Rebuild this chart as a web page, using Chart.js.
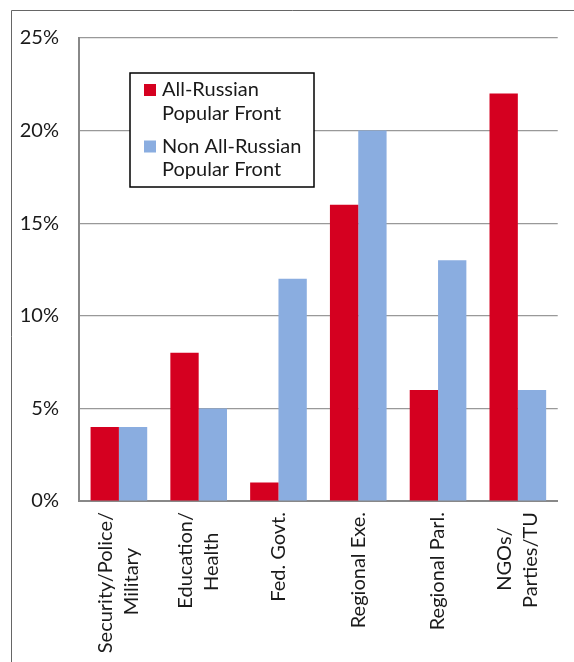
<!DOCTYPE html>
<html>
<head>
<meta charset="utf-8">
<script src="https://cdn.jsdelivr.net/npm/chart.js@4"></script>
<style>
html,body{margin:0;padding:0;background:#fff;}
#wrap{width:574px;height:662px;position:relative;}
</style>
</head>
<body>
<div id="wrap"><canvas id="chart"></canvas></div>
<script>
const categories=[["Security/Police/","Military"],["Education/","Health"],"Fed. Govt.","Regional Exe.","Regional Parl.",["NGOs/","Parties/TU"]];
const seriesNames=[["All-Russian","Popular Front"],["Non All-Russian","Popular Front"]];
const arpfValues=[4,8,1,16,6,22];
const nonArpfValues=[4,5,12,20,13,6];
const yMin=0, yMax=25, yStep=5;

const FONT="Lato";
const FSIZE=20;
const colors=["#d50020","#8aade0"];

Chart.defaults.font.family=FONT;
Chart.defaults.font.size=FSIZE;
Chart.defaults.color="#1a1a1a";

// center the lines of a rotated label against each other (lib right-aligns them)
const mctx=document.createElement("canvas").getContext("2d");
mctx.font=FSIZE+"px "+FONT;
function centerLines(lab)
{
    if(!Array.isArray(lab)) return lab;
    const sp=mctx.measureText(" ").width;
    const ws=lab.map(l=>mctx.measureText(l).width);
    const maxW=Math.max(...ws);
    return lab.map((l,i)=>l+" ".repeat(Math.round((maxW-ws[i])/2/sp)));
}

// outer frame (top + left edge of the original figure box)
const framePlugin={
    id:"frame",
    beforeDraw(chart){
        const ctx=chart.ctx;
        ctx.save();
        ctx.strokeStyle="#666";
        ctx.lineWidth=1;
        ctx.beginPath();
        ctx.moveTo(11.5,chart.height);
        ctx.lineTo(11.5,10.5);
        ctx.lineTo(chart.width,10.5);
        ctx.stroke();
        ctx.restore();

        // multi-line rotated labels: center the whole block on the tick
        const items=chart.scales.x.getLabelItems();
        items.forEach(it=>{
            const n=Array.isArray(it.label)?it.label.length:1;
            if(n>1 && !it._moved){
                it.options.translation[0]-=(n-1)*it.font.lineHeight/2;
                it._moved=true;
            }
        });
    }
};

// boxed legend with two-line entries
const legendPlugin={
    id:"boxLegend",
    afterDraw(chart){
        const ctx=chart.ctx;
        const a=chart.chartArea;
        const x=a.left+51, y=a.top+35, w=184, h=114;
        ctx.save();
        ctx.fillStyle="#fff";
        ctx.fillRect(x,y,w,h);
        ctx.strokeStyle="#000";
        ctx.lineWidth=1.5;
        ctx.strokeRect(x,y,w,h);
        ctx.font=FSIZE+"px "+FONT;
        ctx.textBaseline="alphabetic";
        ctx.textAlign="left";
        chart.data.datasets.forEach((ds,i)=>{
            const by=y+23+i*56.5;
            ctx.fillStyle=ds.backgroundColor;
            ctx.fillRect(x+14,by-12,12,12);
            ctx.fillStyle="#1a1a1a";
            seriesNames[i].forEach((line,j)=>{
                ctx.fillText(line,x+32,by+j*23.5);
            });
        });
        ctx.restore();
    }
};

new Chart(document.getElementById("chart"),{
    type:"bar",
    data:{
        labels:categories,
        datasets:[
            {label:seriesNames[0].join(" "),data:arpfValues,backgroundColor:colors[0]},
            {label:seriesNames[1].join(" "),data:nonArpfValues,backgroundColor:colors[1]}
        ]
    },
    options:{
        responsive:true,
        maintainAspectRatio:false,
        animation:false,
        categoryPercentage:0.71,
        barPercentage:1,
        layout:{padding:{top:38,right:14,left:0,bottom:0}},
        plugins:{legend:{display:false},tooltip:{enabled:false}},
        scales:{
            x:{
                grid:{display:false},
                border:{display:true,color:"#888",width:2},
                ticks:{
                    minRotation:90,maxRotation:90,padding:3,autoSkip:false,
                    font:{lineHeight:1.3},
                    callback:function(v,i){return centerLines(categories[i]);}
                },
                afterFit(scale){scale.height=161;}
            },
            y:{
                min:yMin,max:yMax,
                grid:{color:"#999",lineWidth:1.2,drawTicks:false},
                border:{display:true,color:"#888",width:2},
                ticks:{stepSize:yStep,padding:20,callback:v=>v+"%"},
                afterFit(scale){scale.width=79;}
            }
        }
    },
    plugins:[framePlugin,legendPlugin]
});
</script>
</body>
</html>
